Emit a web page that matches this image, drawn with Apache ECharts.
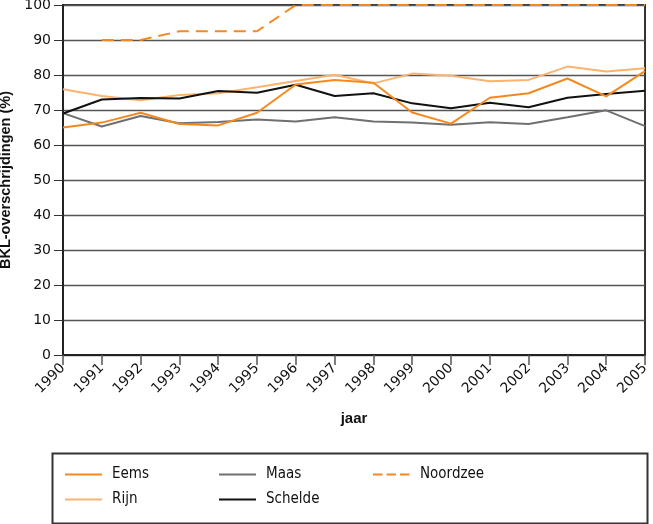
<!DOCTYPE html>
<html><head><meta charset="utf-8">
<script src="https://cdn.jsdelivr.net/npm/echarts@6/dist/echarts.min.js"></script>
<style>html,body{margin:0;padding:0;background:#fff}#c{width:653px;height:524px}</style>
</head><body><div id="c"></div>
<script>
const years = ['1990','1991','1992','1993','1994','1995','1996','1997','1998','1999','2000','2001','2002','2003','2004','2005'];
const eems     = [65.0, 66.4, 69.2, 66.0, 65.6, 69.2, 77.3, 78.6, 77.8, 69.3, 66.1, 73.5, 74.8, 79.0, 73.9, 81.1];
const rijn     = [75.9, 74.0, 72.8, 74.3, 74.8, 76.5, 78.3, 80.1, 77.6, 80.4, 79.8, 78.2, 78.6, 82.4, 81.0, 81.9];
const maas     = [69.1, 65.3, 68.3, 66.2, 66.6, 67.3, 66.7, 67.9, 66.7, 66.4, 65.8, 66.5, 66.0, 67.9, 69.9, 65.4];
const schelde  = [69.0, 73.0, 73.4, 73.3, 75.4, 74.9, 77.2, 74.0, 74.8, 71.9, 70.5, 72.1, 70.8, 73.5, 74.6, 75.5];
const noordzee = [null, 90.0, 90.0, 92.5, 92.5, 92.5, 100, 100, 100, 100, 100, 100, 100, 100, 100, 100];
const yTicks = [0, 10, 20, 30, 40, 50, 60, 70, 80, 90, 100];

const C_EEMS = '#f5891f', C_RIJN = '#fbb36f', C_MAAS = '#707070', C_SCH = '#111111', C_NZ = '#f5891f';
const FONT = 'DejaVu Sans';
const BFONT = 'Liberation Sans';
const LFONT = 'DejaVu Sans Condensed';

function leg(name, left, top, dash){
  const l = {data:[name], left:left, top:top, orient:'horizontal', itemWidth:37, itemHeight:14, itemGap:0,
    padding:0, itemStyle:{opacity:0}, selectedMode:false,
    textStyle:{fontFamily:LFONT, fontSize:15, color:'#111', padding:[0,0,0,5]}};
  if (dash) l.lineStyle = {type:[9.5,4]};
  return l;
}
const chart = echarts.init(document.getElementById('c'), null, {renderer:'canvas'});
chart.setOption({
  animation:false,
  backgroundColor:'#fff',
  grid:{left:63, right:8, top:5, bottom:169, outerBoundsMode:'none', containLabel:false,
    show:true, borderColor:'#333', borderWidth:2, backgroundColor:'transparent'},
  xAxis:{type:'category', data:years, boundaryGap:false,
    axisLine:{show:true, lineStyle:{color:'#222', width:2}},
    axisTick:{show:true, alignWithLabel:true, length:10, lineStyle:{color:'#555', width:1.5}},
    axisLabel:{rotate:45, interval:0, fontFamily:FONT, fontSize:14, color:'#111', margin:11},
    splitLine:{show:false},
    name:'jaar', nameLocation:'middle', nameGap:56,
    nameTextStyle:{fontFamily:BFONT, fontSize:15, fontWeight:'bold', color:'#111'}},
  yAxis:{type:'value', min:0, max:100, interval:10,
    axisLine:{show:true, lineStyle:{color:'#222', width:2}},
    axisTick:{show:true, length:9, lineStyle:{color:'#333', width:1}},
    axisLabel:{fontFamily:FONT, fontSize:14, color:'#111', margin:12,
      formatter:function(v){return yTicks.indexOf(v)>=0 ? String(v) : '';}},
    splitLine:{show:true, lineStyle:{color:'#555', width:1.3}},
    name:'BKL-overschrijdingen (%)', nameLocation:'middle', nameGap:46,
    nameTextStyle:{fontFamily:BFONT, fontSize:14.5, fontWeight:'bold', color:'#111'}},
  legend:[leg('Eems',64,467), leg('Maas',218,467), leg('Noordzee',372,467,true), leg('Rijn',64,492), leg('Schelde',218,492)],
  graphic:[{type:'rect', left:50, top:451, shape:{width:595, height:70}, style:{fill:'none', stroke:'#333', lineWidth:2}, silent:true}],
  series:[
    {name:'Eems', type:'line', data:eems, symbol:'none', lineStyle:{color:C_EEMS, width:2}, itemStyle:{color:C_EEMS}, z:5},
    {name:'Rijn', type:'line', data:rijn, symbol:'none', lineStyle:{color:C_RIJN, width:2}, itemStyle:{color:C_RIJN}, z:4},
    {name:'Maas', type:'line', data:maas, symbol:'none', lineStyle:{color:C_MAAS, width:2}, itemStyle:{color:C_MAAS}, z:3},
    {name:'Schelde', type:'line', data:schelde, symbol:'none', lineStyle:{color:C_SCH, width:2}, itemStyle:{color:C_SCH}, z:4},
    {name:'Noordzee', type:'line', data:noordzee, symbol:'none', connectNulls:false, lineStyle:{color:C_NZ, width:2, type:[12,7]}, itemStyle:{color:C_NZ}, z:6}
  ]
});
</script></body></html>
